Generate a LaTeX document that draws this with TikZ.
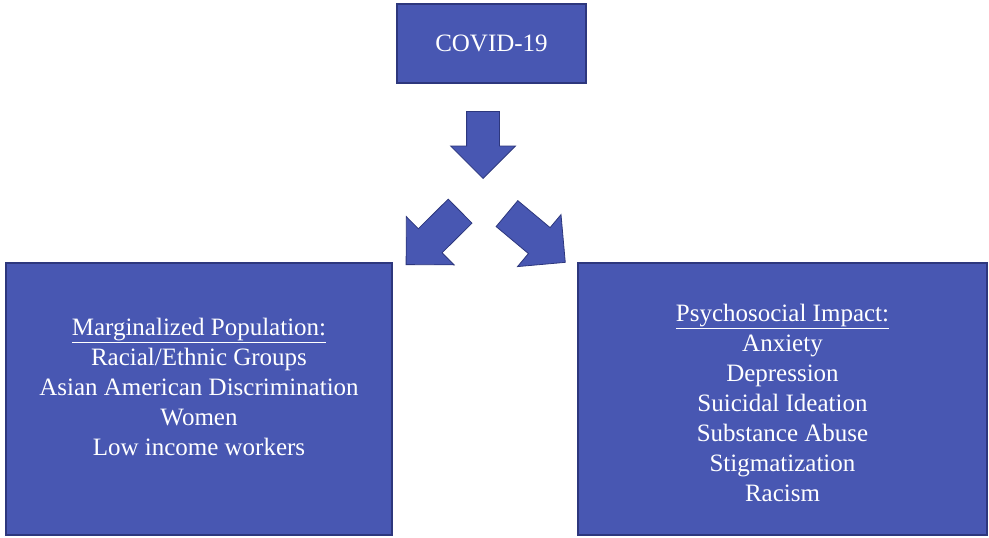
\documentclass[tikz,border=0pt]{standalone}
\usepackage{fontspec}
\setmainfont{Liberation Serif}
\usetikzlibrary{shapes.arrows}
\definecolor{boxblue}{RGB}{72,87,178}
\definecolor{boxline}{RGB}{45,55,125}
\tikzset{
  panel/.style={draw=boxline, line width=1.2pt, fill=boxblue, inner sep=0pt},
  paneltext/.style={text=white, align=center, font=\fontsize{25}{30}\selectfont},
  blockarrow/.style={single arrow, draw=boxline, line width=0.8pt, fill=boxblue,
    inner xsep=0pt, single arrow tip angle=90},
}
\begin{document}
\begin{tikzpicture}[x=1pt, y=-1pt]
  \useasboundingbox (0,0) rectangle (989,538);
  \node[panel, minimum width=189pt, minimum height=79pt, paneltext] (covid) at (491.5,43.5) {COVID-19};
  \node[panel, minimum width=386pt, minimum height=272pt] (margbox) at (199,399) {};
  \node[paneltext, yshift=12pt] (margtext) at (margbox.center) {\underline{Marginalized Population:}\\ Racial/Ethnic Groups\\ Asian American Discrimination\\ Women\\ Low income workers};
  \node[panel, minimum width=409pt, minimum height=272pt] (impactbox) at (782.5,399) {};
  \node[paneltext, yshift=-4pt] (impacttext) at (impactbox.center) {\underline{Psychosocial Impact:}\\ Anxiety\\ Depression\\ Suicidal Ideation\\ Substance Abuse\\ Stigmatization\\ Racism};
  % block arrows
  \node[blockarrow, inner ysep=16pt, single arrow head extend=16pt, minimum height=67pt, rotate=-90, anchor=tip] (downarrow) at (483,179) {};
  \node[blockarrow, inner ysep=16.5pt, single arrow head extend=17pt, minimum height=76pt, rotate=-135.3, anchor=tip] (leftarrow) at (405.7,265) {};
  \node[blockarrow, inner ysep=16.5pt, single arrow head extend=17pt, minimum height=76pt, rotate=-39.9, anchor=tip] (rightarrow) at (565.7,262.7) {};
\end{tikzpicture}
\end{document}
